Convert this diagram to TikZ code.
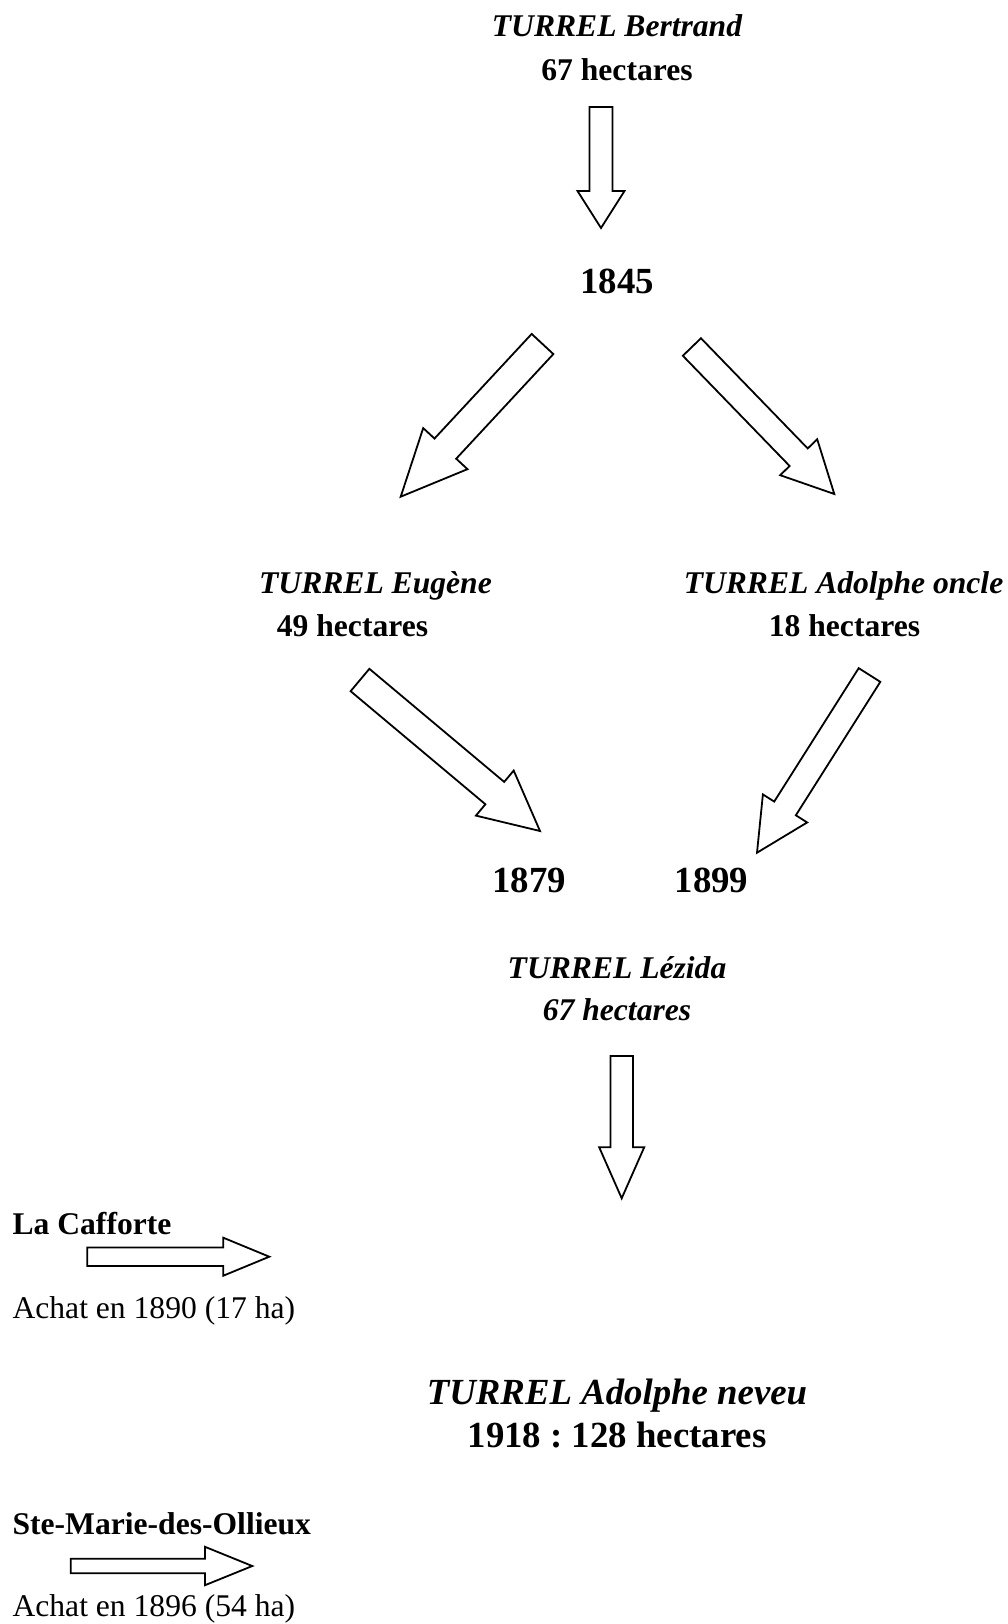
\documentclass[tikz,border=0pt]{standalone}
\usepackage{fontspec}
\setmainfont{Liberation Serif}
\usetikzlibrary{calc}

% hollow block arrow: tail, tip, half shaft, half head, head length
\newcommand\fatarrow[5]{%
  \coordinate (#1-h) at ($(#2)!#5pt!(#1)$);
  \draw[fat] ($(#1)!#3pt!90:(#2)$) -- ($(#1-h)!#3pt!90:(#2)$) -- ($(#1-h)!#4pt!90:(#2)$) -- (#2)
    -- ($(#1-h)!#4pt!-90:(#2)$) -- ($(#1-h)!#3pt!-90:(#2)$) -- ($(#1)!#3pt!-90:(#2)$) -- cycle;
}

\tikzset{
  fat/.style={draw=black,line width=1.8pt,fill=white,line join=miter},
  who/.style={anchor=base,inner sep=0pt,font=\fontsize{31.6}{36}\selectfont\bfseries\itshape},
  area/.style={anchor=base,inner sep=0pt,font=\fontsize{31.6}{36}\selectfont\bfseries},
  year/.style={anchor=base,inner sep=0pt,font=\fontsize{36.8}{42}\selectfont\bfseries},
  place/.style={anchor=base west,inner sep=0pt,font=\fontsize{31.6}{36}\selectfont\bfseries},
  buy/.style={anchor=base west,inner sep=0pt,font=\fontsize{31.6}{36}\selectfont},
}

\begin{document}
\frenchspacing
\begin{tikzpicture}[x=1pt,y=-1pt]
  \useasboundingbox (0,0) rectangle (1008,1624);
  % owners and years
  \node[who] (bertrand) at (617,37) {TURREL Bertrand};
  \node[area] (bertrandha) at (617,81) {67 hectares};
  \node[year] (y1845) at (617,293) {1845};
  \node[who] (eugene) at (375.5,593) {TURREL Eugène};
  \node[area] (eugeneha) at (352.5,636) {49 hectares};
  \node[who] (oncle) at (843.5,593) {TURREL Adolphe oncle};
  \node[area] (oncleha) at (844.5,636) {18 hectares};
  \node[year] (y1879) at (529,892) {1879};
  \node[year] (y1899) at (711.5,892) {1899};
  \node[who] (lezida) at (617,978) {TURREL Lézida};
  \node[who] (lezidaha) at (617,1020) {67 hectares};
  \node[who,font=\fontsize{36.8}{42}\selectfont\bfseries\itshape] (neveu) at (617,1404) {TURREL Adolphe neveu};
  \node[year] (neveuha) at (617,1447) {1918 : 128 hectares};
  % purchases
  \node[place] (cafforte) at (12.4,1234) {La Cafforte};
  \node[buy] (cafforteha) at (12.4,1318) {Achat en 1890 (17 ha)};
  \node[place] (ollieux) at (12.4,1534) {Ste-Marie-des-Ollieux};
  \node[buy] (ollieuxha) at (12.4,1616) {Achat en 1896 (54 ha)};
  % arrow ends
  \coordinate (a1s) at (601,107);     \coordinate (a1e) at (601,228);
  \coordinate (a2s) at (542.5,344);   \coordinate (a2e) at (400.7,496.7);
  \coordinate (a3s) at (691.9,347);   \coordinate (a3e) at (834.3,494);
  \coordinate (a4s) at (360,680);     \coordinate (a4e) at (540,831);
  \coordinate (a5s) at (869.5,675);   \coordinate (a5e) at (757,852.7);
  \coordinate (a6s) at (621.7,1056);  \coordinate (a6e) at (621.7,1198.3);
  \coordinate (a7s) at (87.3,1256.7); \coordinate (a7e) at (269.3,1256.7);
  \coordinate (a8s) at (70.7,1566);   \coordinate (a8e) at (252.3,1566);
  \foreach \s/\e/\w/\h/\l in {a1s/a1e/11.5/23.5/37, a2s/a2e/14.8/30.2/65.6,
      a3s/a3e/12.6/25.8/51.2, a4s/a4e/14.6/29.4/59, a5s/a5e/12.8/26.2/52.4,
      a6s/a6e/11.3/22.5/51, a7s/a7e/9.3/19/46, a8s/a8e/7.2/19.2/47.3}{
    \fatarrow{\s}{\e}{\w}{\h}{\l}
  }
\end{tikzpicture}
\end{document}
